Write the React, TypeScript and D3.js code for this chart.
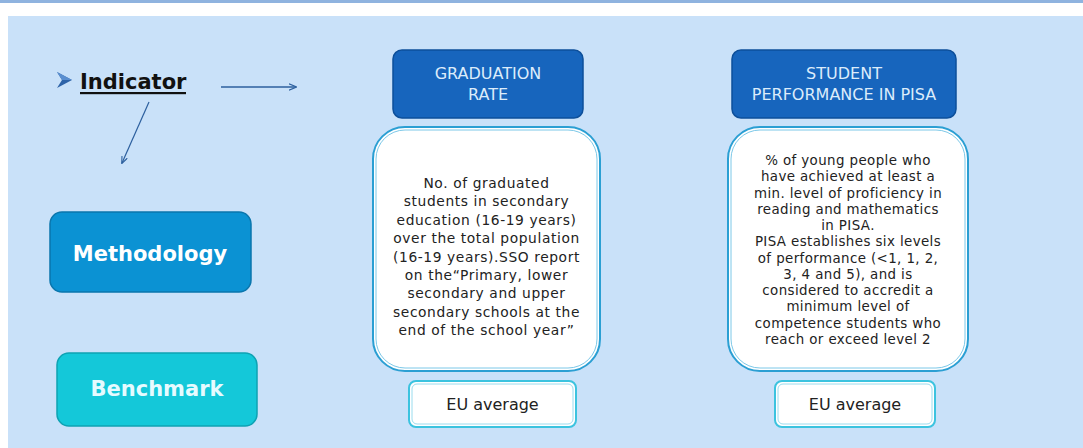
import React from "react";
import * as d3 from "d3";

// diagram content
const indicatorLabel = "Indicator";
const sideLabels = ["Methodology", "Benchmark"];
const headers = [
  ["GRADUATION", "RATE"],
  ["STUDENT", "PERFORMANCE IN PISA"],
];
const methodText = [
  [
    "No. of graduated",
    "students in secondary",
    "education (16-19 years)",
    "over the total population",
    "(16-19 years).SSO report",
    "on the\u201cPrimary, lower",
    "secondary and upper",
    "secondary schools at the",
    "end of the school year\u201d",
  ],
  [
    "% of young people who",
    "have achieved at least a",
    "min. level of proficiency in",
    "reading and mathematics",
    "in PISA.",
    "PISA establishes six levels",
    "of performance (<1, 1, 2,",
    "3, 4 and 5), and is",
    "considered to accredit a",
    "minimum level of",
    "competence students who",
    "reach or exceed level 2",
  ],
];
const benchmarkText = ["EU average", "EU average"];

const width = 1083;
const height = 448;
const font = "'DejaVu Sans', Verdana, sans-serif";

// column geometry
const cols = [
  { head: [393, 583], body: [373, 600], eu: [409, 576], first: 188, step: 18.4, fs: 13.8, ls: 0.6 },
  { head: [732, 956], body: [728, 968], eu: [775, 935], first: 165, step: 16.25, fs: 13.4, ls: 0.4 },
];

const App = () => {
  const side = d3
    .scaleOrdinal<string, number>()
    .domain(sideLabels)
    .range([212, 353]);

  return (
    <svg
      width={width}
      height={height}
      style={{ position: "absolute", left: 0, top: 0 }}
      fontFamily={font}
    >
      <defs>
        <marker id="ah" viewBox="0 0 10 10" refX="9" refY="5" markerWidth="6" markerHeight="6" orient="auto">
          <path d="M0,1 L10,5 L0,9" fill="none" stroke="#2c5f9e" strokeWidth="1.5" />
        </marker>
      </defs>
      <rect x={0} y={0} width={width} height={height} fill="#ffffff" />
      <rect x={0} y={0} width={width} height={3} fill="#8fb3df" />
      <rect x={8} y={16} width={width - 8} height={height - 16} fill="#c9e1f9" />

      {/* indicator */}
      <path d="M57,72 L72,80 L57,88 L62,80 Z" fill="#2d63a8" />
      <path d="M57,72 L72,80 L62,80 Z" fill="#5b8fd0" />
      <text x={80} y={89} fontSize={21} fontWeight="bold" fill="#111">
        {indicatorLabel}
      </text>
      <rect x={80} y={92} width={106} height={2.2} fill="#111" />
      <line x1={221} y1={87} x2={296} y2={87} stroke="#2c5f9e" strokeWidth={1.3} markerEnd="url(#ah)" />
      <line x1={149} y1={102} x2={122} y2={163} stroke="#2c5f9e" strokeWidth={1.2} markerEnd="url(#ah)" />

      {/* side boxes */}
      <rect x={50} y={side("Methodology")} width={201} height={80} rx={12} fill="#0b92d3" stroke="#0a76ad" strokeWidth={1.5} />
      <text x={150} y={261} textAnchor="middle" fontSize={21} fontWeight="bold" fill="#ffffff">
        {sideLabels[0]}
      </text>
      <rect x={57} y={side("Benchmark")} width={200} height={73} rx={12} fill="#14c8d9" stroke="#0ea2b3" strokeWidth={1.5} />
      <text x={157} y={396} textAnchor="middle" fontSize={21} fontWeight="bold" fill="#e6fbff">
        {sideLabels[1]}
      </text>

      {cols.map((c, i) => {
        const hx = (c.head[0] + c.head[1]) / 2;
        const bx = (c.body[0] + c.body[1]) / 2;
        const ex = (c.eu[0] + c.eu[1]) / 2;
        return (
          <g key={i}>
            <rect x={c.head[0]} y={50} width={c.head[1] - c.head[0]} height={68} rx={9} fill="#1765bd" stroke="#0d4f9a" strokeWidth={1.5} />
            {headers[i].map((t, j) => (
              <text key={j} x={hx} y={79 + j * 21} textAnchor="middle" fontSize={16} fill="#dcecfb">
                {t}
              </text>
            ))}
            <rect x={c.body[0]} y={127} width={c.body[1] - c.body[0]} height={244} rx={32} fill="#ffffff" stroke="#2b9fd3" strokeWidth={2} />
            <rect x={c.body[0] + 3} y={130} width={c.body[1] - c.body[0] - 6} height={238} rx={29} fill="none" stroke="#7cc8e8" strokeWidth={1} />
            {methodText[i].map((t, j) => (
              <text key={j} x={bx} y={c.first + j * c.step} textAnchor="middle" fontSize={c.fs} letterSpacing={c.ls} fill="#222">
                {t}
              </text>
            ))}
            <rect x={c.eu[0]} y={381} width={c.eu[1] - c.eu[0]} height={46} rx={7} fill="#ffffff" stroke="#3cc3df" strokeWidth={2} />
            <rect x={c.eu[0] + 3} y={384} width={c.eu[1] - c.eu[0] - 6} height={40} rx={5} fill="none" stroke="#9adcee" strokeWidth={1} />
            <text x={ex} y={410} textAnchor="middle" fontSize={16} fill="#222">
              {benchmarkText[i]}
            </text>
          </g>
        );
      })}
    </svg>
  );
};

export default App;
